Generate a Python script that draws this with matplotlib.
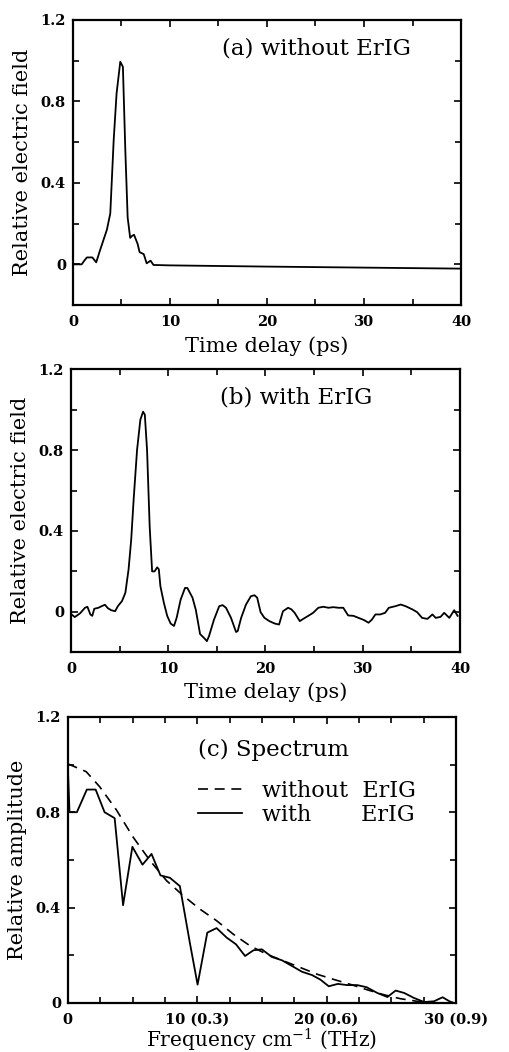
import numpy as np
import matplotlib
matplotlib.use("Agg")
import matplotlib.pyplot as plt
from matplotlib.ticker import MultipleLocator, FixedLocator

# font: wide serif like the original scan
matplotlib.rcParams['font.family'] = ['DejaVu Serif']
matplotlib.rcParams['mathtext.fontset'] = 'dejavuserif'

# (a) pulse without ErIG
t_a = [0, 0.9, 1.2, 1.44, 2.0, 2.4, 2.8, 3.5, 3.85, 4.2, 4.5, 4.88, 5.15, 5.4, 5.64,
       5.9, 6.1, 6.3, 6.67, 6.87, 7.3, 7.6, 8.0, 8.3, 10, 20, 30, 40]
e_a = [0, 0, 0.02, 0.034, 0.034, 0.01, 0.07, 0.17, 0.25, 0.61, 0.84, 0.995, 0.97, 0.56, 0.23,
       0.13, 0.14, 0.145, 0.10, 0.06, 0.05, 0.005, 0.018, -0.003, -0.005, -0.011, -0.016, -0.021]

# (b) pulse with ErIG
t_b = [0.07, 0.4, 0.93, 1.45, 1.7, 2.0, 2.2, 2.4, 2.83, 3.17, 3.5, 3.8, 4.14, 4.55, 4.83,
       5.25, 5.6, 5.93, 6.2, 6.45, 6.8, 7.14, 7.42, 7.6, 7.83, 8.1, 8.35, 8.6, 8.87, 9.04,
       9.2, 9.56, 9.9, 10.25, 10.6, 10.87, 11.28, 11.73, 11.97, 12.5, 12.84, 13.28, 13.7,
       13.98, 14.2, 14.7, 15.25, 15.6, 15.94, 16.46, 16.98, 17.15, 17.5, 18.0, 18.5, 18.87,
       19.15, 19.5, 19.9, 20.4, 20.95, 21.4, 21.8, 22.33, 22.67, 23.0, 23.53, 23.88, 24.4,
       24.9, 25.43, 25.95, 26.47, 26.98, 27.5, 28.0, 28.5, 29.05, 29.57, 30.1, 30.6, 30.95,
       31.3, 31.8, 32.3, 32.68, 33.37, 33.9, 34.4, 35.1, 35.6, 36.1, 36.65, 37.16, 37.5,
       38.0, 38.37, 38.9, 39.4, 39.75]
e_b = [-0.013, -0.026, -0.008, 0.02, 0.025, -0.013, -0.02, 0.015, 0.02, 0.028, 0.035, 0.018,
       0.008, 0.003, 0.028, 0.053, 0.094, 0.21, 0.357, 0.555, 0.80, 0.95, 0.99, 0.975, 0.80,
       0.42, 0.20, 0.20, 0.22, 0.21, 0.127, 0.044, -0.02, -0.058, -0.07, -0.03, 0.06, 0.118,
       0.118, 0.07, 0.01, -0.11, -0.13, -0.145, -0.12, -0.04, 0.028, 0.033, 0.02, -0.03,
       -0.10, -0.095, -0.03, 0.036, 0.077, 0.082, 0.07, -0.002, -0.03, -0.046, -0.058,
       -0.063, 0.003, 0.02, 0.012, -0.005, -0.046, -0.035, -0.02, -0.005, 0.02, 0.025, 0.02,
       0.023, 0.02, 0.02, -0.018, -0.02, -0.03, -0.04, -0.054, -0.038, -0.013, -0.013,
       -0.005, 0.02, 0.028, 0.036, 0.028, 0.012, -0.002, -0.03, -0.035, -0.013, -0.03,
       -0.025, -0.005, -0.03, 0.008, -0.02]

# (c) spectra
f_without = [0, 1.42, 2.46, 3.75, 5.04, 6.34, 7.63, 8.92, 10.2, 11.5, 12.8, 14.1, 15.4,
             16.7, 18.0, 19.3, 20.6, 21.9, 23.1, 24.4, 25.7, 27.0, 28.3, 30]
a_without = [1.003, 0.97, 0.907, 0.81, 0.696, 0.598, 0.513, 0.45, 0.394, 0.345, 0.288,
             0.239, 0.204, 0.176, 0.148, 0.12, 0.098, 0.077, 0.056, 0.035, 0.018, 0.007, 0.0, 0.0]
f_with = [0, 0.13, 0.7, 1.47, 2.15, 2.84, 3.62, 4.27, 4.99, 5.77, 6.47, 7.16, 7.89, 8.66,
          9.44, 10.03, 10.78, 11.5, 12.28, 13.0, 13.7, 14.35, 15.0, 15.77, 16.55, 17.33,
          18.1, 18.88, 19.52, 20.17, 20.87, 21.6, 22.37, 23.1, 23.92, 24.7, 25.34, 26.0,
          26.76, 27.54, 28.3, 28.97, 29.5, 30]
a_with = [0.99, 0.80, 0.80, 0.895, 0.895, 0.80, 0.775, 0.41, 0.655, 0.58, 0.625, 0.535,
          0.525, 0.49, 0.25, 0.077, 0.295, 0.314, 0.274, 0.246, 0.197, 0.221, 0.225, 0.193,
          0.179, 0.155, 0.131, 0.117, 0.098, 0.07, 0.08, 0.075, 0.075, 0.066, 0.042, 0.025,
          0.052, 0.042, 0.021, 0.004, 0.007, 0.024, 0.007, -0.003]

y_ticks = [0, 0.4, 0.8, 1.2]
y_ticklabels = ['0', '0.4', '0.8', '1.2']
t_ticks = [0, 10, 20, 30, 40]
f_ticks = [0, 10, 20, 30]
f_ticklabels = ['0', '10 (0.3)', '20 (0.6)', '30 (0.9)']

fig = plt.figure(figsize=(5.1, 10.52), dpi=100)
ax_a = fig.add_axes([0.143, 0.710, 0.761, 0.271])
ax_b = fig.add_axes([0.139, 0.380, 0.763, 0.269])
ax_c = fig.add_axes([0.133, 0.0466, 0.761, 0.272])

lab_font = dict(fontsize=15)
tick_font = dict(fontsize=10.5, fontweight='bold')


def style(ax):
    for s in ax.spines.values():
        s.set_linewidth(1.6)
    ax.tick_params(which='both', direction='in', top=True, right=True, width=1.2)
    ax.tick_params(axis='x', which='both', pad=7)
    ax.tick_params(axis='y', which='both', pad=5)
    ax.tick_params(which='major', length=5)
    ax.tick_params(which='minor', length=4)


for ax, t, e, title in [(ax_a, t_a, e_a, '(a) without ErIG'), (ax_b, t_b, e_b, '(b) with ErIG')]:
    ax.plot(t, e, color='black', lw=1.3)
    ax.set_xlim(0, 40)
    ax.set_ylim(-0.2, 1.2)
    ax.xaxis.set_major_locator(FixedLocator(t_ticks))
    ax.xaxis.set_minor_locator(MultipleLocator(5))
    ax.set_yticks(y_ticks)
    ax.set_yticklabels(y_ticklabels, **tick_font)
    ax.set_xticklabels([str(v) for v in t_ticks], **tick_font)
    ax.yaxis.set_minor_locator(MultipleLocator(0.2))
    ax.set_xlabel('Time delay (ps)', **lab_font)
    ax.set_ylabel('Relative electric field', **lab_font)
    ax.xaxis.set_label_coords(0.5, -0.108)
    ax.yaxis.set_label_coords(-0.105, 0.5)
    ax.text(0.384, 0.90, title, transform=ax.transAxes, fontsize=16.5, va='center', ha='left')
    style(ax)

ax_c.plot(f_without, a_without, color='black', lw=1.2, ls=(0, (6, 4)), label='without  ErIG')
ax_c.plot(f_with, a_with, color='black', lw=1.3, label='with       ErIG')
ax_c.set_xlim(0, 30)
ax_c.set_ylim(0, 1.2)
ax_c.set_xticks(f_ticks)
ax_c.set_xticklabels(f_ticklabels, **tick_font)
ax_c.xaxis.set_minor_locator(MultipleLocator(2.5))
ax_c.set_yticks(y_ticks)
ax_c.set_yticklabels(y_ticklabels, **tick_font)
ax_c.yaxis.set_minor_locator(MultipleLocator(0.2))
ax_c.set_xlabel('Frequency cm$^{-1}$ (THz)', fontsize=14.5)
ax_c.set_ylabel('Relative amplitude', **lab_font)
ax_c.xaxis.set_label_coords(0.5, -0.082)
ax_c.yaxis.set_label_coords(-0.105, 0.5)
ax_c.text(0.335, 0.885, '(c) Spectrum', transform=ax_c.transAxes, fontsize=16.5, va='center', ha='left')
ax_c.legend(loc='upper left', bbox_to_anchor=(0.295, 0.835), frameon=False, fontsize=16,
            handlelength=2.0, handletextpad=0.9, labelspacing=0.12, borderpad=0.2)
style(ax_c)

plt.savefig('out.png', dpi=100)
